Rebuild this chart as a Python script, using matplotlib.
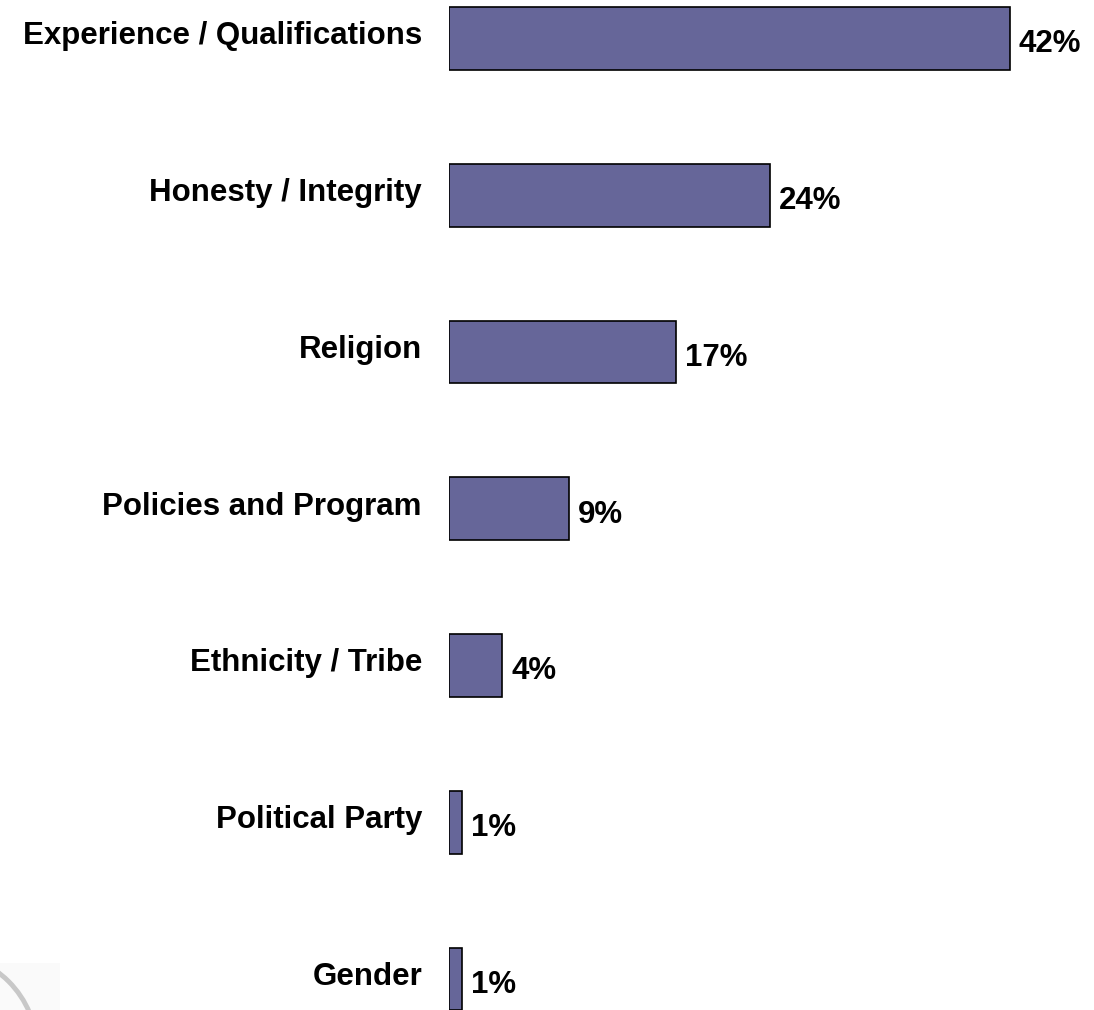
import matplotlib
matplotlib.use("Agg")
import matplotlib.pyplot as plt
from matplotlib.patches import Arc, Rectangle
from matplotlib.transforms import offset_copy

categories = ["Experience / Qualifications", "Honesty / Integrity", "Religion",
              "Policies and Program", "Ethnicity / Tribe", "Political Party", "Gender"]
values = [42, 24, 17, 9, 4, 1, 1]
value_labels = ["42%", "24%", "17%", "9%", "4%", "1%", "1%"]

plt.rcParams['font.family'] = ['Liberation Sans', 'DejaVu Sans']

W, H = 1094, 1010
fig = plt.figure(figsize=(W / 100, H / 100), dpi=100)
fig.patch.set_facecolor("white")

# logo fragment bottom-left
fig.patches.append(Rectangle((0, 0), 60 / W, 47 / H, transform=fig.transFigure,
                             facecolor="#fafafa", edgecolor="none", zorder=0))
fig.patches.append(Arc((-60 / W, -40 / H), 194 / W, 194 / H, theta1=0, theta2=90,
                       transform=fig.transFigure, edgecolor="#c8c8c8", linewidth=3.5, zorder=1))

ax = fig.add_axes([449 / W, 0, 641 / W, 1])
ax.set_xlim(0, 48)
spacing = 156.75
ax.set_ylim((1010 - 38.5) / spacing, -38.5 / spacing)
ax.axis("off")

y = list(range(len(categories)))
ax.barh(y, values, height=0.40, color="#666699", edgecolor="black", linewidth=1.2)

lab_tr = offset_copy(ax.transData, fig=fig, x=-27, y=-6, units="dots")
val_tr = offset_copy(ax.transData, fig=fig, x=9, y=-14, units="dots")
for yi, cat, v, vl in zip(y, categories, values, value_labels):
    ax.text(0, yi, cat, ha="right", va="baseline", fontsize=22.5, fontweight="bold",
            transform=lab_tr)
    ax.text(v, yi, vl, ha="left", va="baseline", fontsize=22.5, fontweight="bold",
            transform=val_tr)

fig.savefig("out.png", dpi=100)
